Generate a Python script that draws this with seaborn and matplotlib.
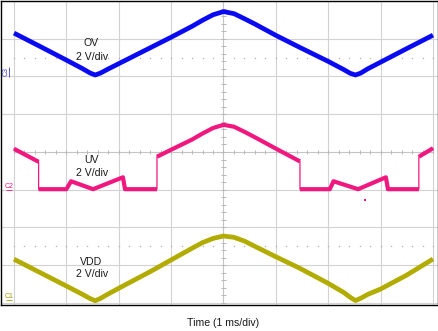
import numpy as np
import pandas as pd
import matplotlib
matplotlib.use("Agg")
import matplotlib.pyplot as plt
import seaborn as sns

# ---- captured waveforms (time in ms relative to the trigger, amplitude in V) ----
time_ms = [-4.0, -3.5, -3.0, -2.7, -2.55, -2.45, -2.35, -2.2, -2.0, -1.4, -1.0,
           -0.6, -0.4, -0.2, 0.0, 0.2, 0.4, 0.6, 1.0, 1.45, 2.0, 2.3, 2.42,
           2.52, 2.62, 2.75, 3.0, 3.5, 4.0]
ov_volts = [2.30, 1.59, 0.87, 0.43, 0.19, 0.08, 0.18, 0.40, 0.68, 1.52, 2.08,
            2.66, 2.98, 3.27, 3.44, 3.33, 3.06, 2.78, 2.18, 1.55, 0.80, 0.36, 0.17,
            0.08, 0.18, 0.40, 0.76, 1.48, 2.19]
vdd_volts = [2.32, 1.61, 0.90, 0.47, 0.24, 0.12, 0.24, 0.48, 0.78, 1.66, 2.28,
             2.90, 3.20, 3.42, 3.55, 3.48, 3.28, 3.00, 2.45, 1.85, 1.04, 0.55, 0.30,
             0.13, 0.25, 0.45, 0.74, 1.48, 2.33]

uv_time_ms = [-4.0, -3.53, -3.53, -3.0, -2.91, -2.49, -1.92, -1.88, -1.27, -1.27,
              -1.0, -0.6, -0.4, -0.2, 0.0, 0.2, 0.4, 0.6, 1.0, 1.46, 1.46, 2.03,
              2.10, 2.57, 3.10, 3.14, 3.73, 3.73, 4.0]
uv_volts = [2.17, 1.48, 0.03, 0.03, 0.45, 0.03, 0.66, 0.03, 0.03, 1.75,
            2.12, 2.66, 2.98, 3.27, 3.44, 3.34, 3.07, 2.78, 2.18, 1.50, 0.03, 0.03,
            0.45, 0.03, 0.66, 0.03, 0.03, 1.75, 2.20]
uv_glitch_time_ms = [2.70]
uv_glitch_volts = [-0.54]

channel_names = ["OV", "UV", "VDD"]
channel_ids = ["C3", "C2", "C1"]
scale_text = "2 V/div"
time_label = "Time (1 ms/div)"

# ---- scope layout ----
VOLTS_PER_DIV = 2.0
OFFSETS = {"OV": 6.0, "UV": 3.0, "VDD": 0.0}          # ground level of each channel, in divisions
COLORS = {"OV": "#0a0af2", "UV": "#f0187e", "VDD": "#b3ac00"}
GRID = "#d2d2d2"

sns.set_theme(style="white")
plt.rcParams["font.family"] = ["Liberation Sans", "DejaVu Sans"]

W, H = 439, 331
fig = plt.figure(figsize=(W / 100, H / 100), dpi=100)
ax = fig.add_axes([1 / W, 1 - 305 / H, 437.5 / W, 304 / H])
ax.set_xlim(-4.248, 4.105)
ax.set_ylim(-0.053, 8.0)
ax.set_xticks([])
ax.set_yticks([])
ax.set_xlabel("")
ax.set_ylabel("")
for sp in ax.spines.values():
    sp.set_visible(True)
    sp.set_color("black")
    sp.set_linewidth(1.0)

# graticule
for t in range(-4, 5):
    if t != 0:
        ax.axvline(t, color=GRID, lw=0.8, zorder=0)
for d in range(0, 9):
    if d != 4:
        ax.axhline(d, color=GRID, lw=0.8, zorder=0)
ax.hlines(4, -4, 4, color="#c4c4c4", lw=0.8, zorder=0)
ax.vlines(0, 0, 8, color="#c4c4c4", lw=0.8, zorder=0)
minor_t = np.arange(-4, 4.001, 0.2)
minor_d = np.arange(0, 8.001, 0.2)
ax.vlines(minor_t, 4 - 0.055, 4 + 0.055, color="#b8b8b8", lw=0.7, zorder=0)
ax.hlines(minor_d, -0.04, 0.04, color="#b8b8b8", lw=0.7, zorder=0)
for d in (1.5, 6.5):
    ax.plot(minor_t, np.full_like(minor_t, d), ls="none", marker="s", ms=0.9,
            mec="none", mfc="#b0b0b0", zorder=0)

# OV and VDD traces
for name, volts in (("OV", ov_volts), ("VDD", vdd_volts)):
    df = pd.DataFrame({"t": time_ms, "v": volts})
    df["div"] = OFFSETS[name] + df["v"] / VOLTS_PER_DIV
    sns.lineplot(data=df, x="t", y="div", ax=ax, color=COLORS[name], lw=3.4,
                 sort=False, estimator=None, legend=False, zorder=3,
                 solid_capstyle="butt", solid_joinstyle="round")

# UV trace: thin edges at the comparator transitions, thick everywhere else
uv = pd.DataFrame({"t": uv_time_ms, "v": uv_volts})
uv["div"] = OFFSETS["UV"] + uv["v"] / VOLTS_PER_DIV
jump = uv["t"].diff().fillna(1).abs() < 1e-9
uv["seg"] = jump.cumsum()
sns.lineplot(data=uv, x="t", y="div", ax=ax, color=COLORS["UV"], lw=0.9,
             sort=False, estimator=None, legend=False, zorder=3)
sns.lineplot(data=uv, x="t", y="div", units="seg", ax=ax, color=COLORS["UV"],
             lw=3.0, sort=False, estimator=None, legend=False, zorder=3,
             solid_capstyle="butt", solid_joinstyle="round")
glitch = pd.DataFrame({"t": uv_glitch_time_ms,
                       "div": [OFFSETS["UV"] + v / VOLTS_PER_DIV for v in uv_glitch_volts]})
sns.scatterplot(data=glitch, x="t", y="div", ax=ax, color=COLORS["UV"], s=3,
                marker="s", linewidth=0, legend=False, zorder=3)

# channel captions
label_pos = {"OV": (6.89, 6.52), "UV": (3.79, 3.44), "VDD": (1.09, 0.77)}
for name in channel_names:
    y1, y2 = label_pos[name]
    ax.text(-2.52, y1, name, ha="center", va="center", fontsize=7.6,
            color="#1a1a1a", zorder=4)
    ax.text(-2.50, y2, scale_text, ha="center", va="center", fontsize=7.6,
            color="#1a1a1a", zorder=4)

# ground markers
ax.text(-4.150, 6.12, channel_ids[0], rotation=90, ha="center", va="center",
        fontsize=5, color="#3a3ad6", zorder=4)
ax.vlines(-4.095, 5.98, 6.25, color="#3a3ad6", lw=0.6, zorder=4)
ax.text(-4.10, 3.09, channel_ids[1], rotation=0, ha="center", va="center",
        fontsize=5, color=COLORS["UV"], zorder=4)
ax.hlines(3.0, -4.16, -4.03, color=COLORS["UV"], lw=0.6, zorder=4)
ax.text(-4.10, 0.18, channel_ids[2], rotation=0, ha="center", va="center",
        fontsize=5, color="#9f9900", zorder=4)
ax.hlines(0.08, -4.16, -4.03, color="#9f9900", lw=0.6, zorder=4)

fig.text(223 / W, 1 - 323 / H, time_label, ha="center", va="center",
         fontsize=7.6, color="#1a1a1a")

fig.savefig("out.png", dpi=100, facecolor="white")
